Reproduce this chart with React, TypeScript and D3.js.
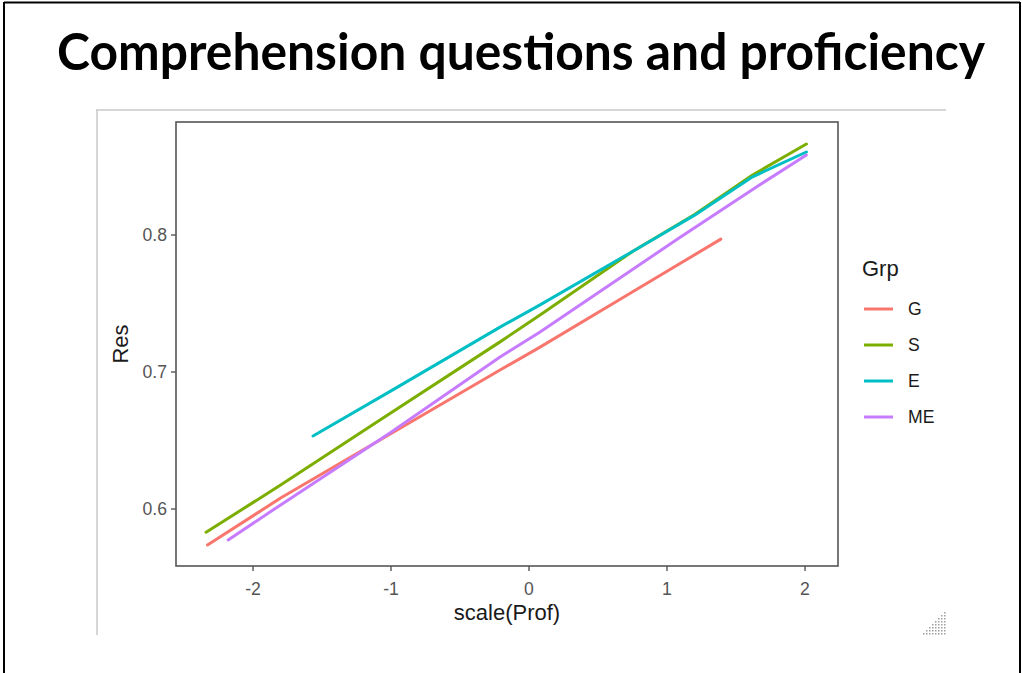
import * as d3 from "d3";

const WIDTH = 1022;
const HEIGHT = 673;

// panel of the embedded ggplot
const PANEL = { left: 176, top: 122, right: 838, bottom: 566 };
const X_DOMAIN = [-2.558, 2.239];
const Y_DOMAIN = [0.5584, 0.8825];

const groups = ["G", "S", "E", "ME"];
const groupColors = ["#F8766D", "#7CAE00", "#00BFC4", "#C77CFF"];

const gProf = [-2.33, -1.8, -1.08, -0.21, 0.08, 0.7, 1.39];
const gRes = [0.5737, 0.608, 0.6504, 0.7015, 0.7182, 0.7555, 0.797];

const sProf = [-2.34, -1.8, -1.08, -0.21, 0.08, 0.75, 1.2, 1.62, 2.01];
const sRes = [0.583, 0.6175, 0.665, 0.722, 0.7416, 0.788, 0.815, 0.8438, 0.8664];

const eProf = [-1.565, -1.0, -0.21, 0.08, 0.75, 1.2, 1.62, 2.01];
const eRes = [0.6533, 0.6862, 0.7328, 0.749, 0.788, 0.8145, 0.8425, 0.8606];

const meProf = [-2.18, -1.8, -1.0, -0.21, 0.08, 1.09, 1.67, 2.01];
const meRes = [0.5774, 0.603, 0.656, 0.711, 0.7292, 0.798, 0.8365, 0.8584];

const xTicks = [-2, -1, 0, 1, 2];
const yTicks = [0.6, 0.7, 0.8];

const seriesProf = [gProf, sProf, eProf, meProf];
const seriesRes = [gRes, sRes, eRes, meRes];

export default function App() {
  const x = d3.scaleLinear().domain(X_DOMAIN).range([PANEL.left, PANEL.right]);
  const y = d3.scaleLinear().domain(Y_DOMAIN).range([PANEL.bottom, PANEL.top]);

  const line = d3
    .line<[number, number]>()
    .x((d) => x(d[0]))
    .y((d) => y(d[1]));

  const axisGrey = "#555";
  const font = "'Liberation Sans', Arial, sans-serif";

  // resize grip dots in bottom-right corner of the picture
  const grip: { cx: number; cy: number }[] = [];
  for (let r = 0; r < 8; r++) {
    for (let c = 0; c < 8; c++) {
      if (r + c >= 7) grip.push({ cx: 923 + c * 3, cy: 612 + r * 3 });
    }
  }

  return (
    <svg
      width={WIDTH}
      height={HEIGHT}
      style={{ position: "absolute", left: 0, top: 0, background: "#fff" }}
    >
      {/* slide frame */}
      <line x1={4} x2={4} y1={2} y2={HEIGHT} stroke="#000" strokeWidth={2} />
      <line x1={4} x2={1020} y1={2.5} y2={2.5} stroke="#000" strokeWidth={2} />
      <line x1={1020} x2={1020} y1={2} y2={HEIGHT} stroke="#000" strokeWidth={2} />

      <text
        transform="translate(521,70) scale(1,1.18)"
        textAnchor="middle"
        fontFamily="Lato, 'Open Sans', sans-serif"
        fontWeight={700}
        fontSize={44}
        textLength={928}
        lengthAdjust="spacingAndGlyphs"
        fill="#000"
      >
        Comprehension questions and proficiency
      </text>

      {/* embedded picture frame */}
      <line x1={96} x2={946} y1={110} y2={110} stroke="#c8c8c8" strokeWidth={1.5} />
      <line x1={97} x2={97} y1={110} y2={635} stroke="#c8c8c8" strokeWidth={1.5} />
      {grip.map((d, i) => (
        <rect key={i} x={d.cx} y={d.cy} width={1.5} height={1.5} fill="#a0a0a0" />
      ))}

      {/* series */}
      <g fill="none" strokeWidth={3} strokeLinejoin="round" strokeLinecap="round">
        {groups.map((gname, i) => (
          <path
            key={gname}
            d={line(seriesProf[i].map((p, j) => [p, seriesRes[i][j]] as [number, number])) || ""}
            stroke={groupColors[i]}
          />
        ))}
      </g>

      {/* panel border */}
      <rect
        x={PANEL.left}
        y={PANEL.top}
        width={PANEL.right - PANEL.left}
        height={PANEL.bottom - PANEL.top}
        fill="none"
        stroke="#555"
        strokeWidth={1.6}
      />

      {/* y axis */}
      {yTicks.map((t) => (
        <g key={t}>
          <line x1={PANEL.left - 5} x2={PANEL.left} y1={y(t)} y2={y(t)} stroke="#555" strokeWidth={1.4} />
          <text
            x={PANEL.left - 9}
            y={y(t)}
            dy="0.35em"
            textAnchor="end"
            fontFamily={font}
            fontSize={17.6}
            fill={axisGrey}
          >
            {d3.format(".1f")(t)}
          </text>
        </g>
      ))}

      {/* x axis */}
      {xTicks.map((t) => (
        <g key={t}>
          <line x1={x(t)} x2={x(t)} y1={PANEL.bottom} y2={PANEL.bottom + 5} stroke="#555" strokeWidth={1.4} />
          <text
            x={x(t)}
            y={PANEL.bottom + 29}
            textAnchor="middle"
            fontFamily={font}
            fontSize={17.6}
            fill={axisGrey}
          >
            {t}
          </text>
        </g>
      ))}

      <text
        x={(PANEL.left + PANEL.right) / 2}
        y={620}
        textAnchor="middle"
        fontFamily={font}
        fontSize={22}
        fill="#1a1a1a"
      >
        scale(Prof)
      </text>
      <text
        transform={`translate(128,${(PANEL.top + PANEL.bottom) / 2}) rotate(-90)`}
        textAnchor="middle"
        fontFamily={font}
        fontSize={22}
        fill="#1a1a1a"
      >
        Res
      </text>

      {/* legend */}
      <text x={862} y={276} fontFamily={font} fontSize={22} fill="#1a1a1a">
        Grp
      </text>
      {groups.map((gname, i) => {
        const cy = 309 + i * 36;
        return (
          <g key={gname}>
            <line x1={864} x2={893} y1={cy} y2={cy} stroke={groupColors[i]} strokeWidth={3} />
            <text
              x={908}
              y={cy}
              dy="0.36em"
              fontFamily={font}
              fontSize={17.6}
              fill="#1a1a1a"
            >
              {gname}
            </text>
          </g>
        );
      })}
    </svg>
  );
}
